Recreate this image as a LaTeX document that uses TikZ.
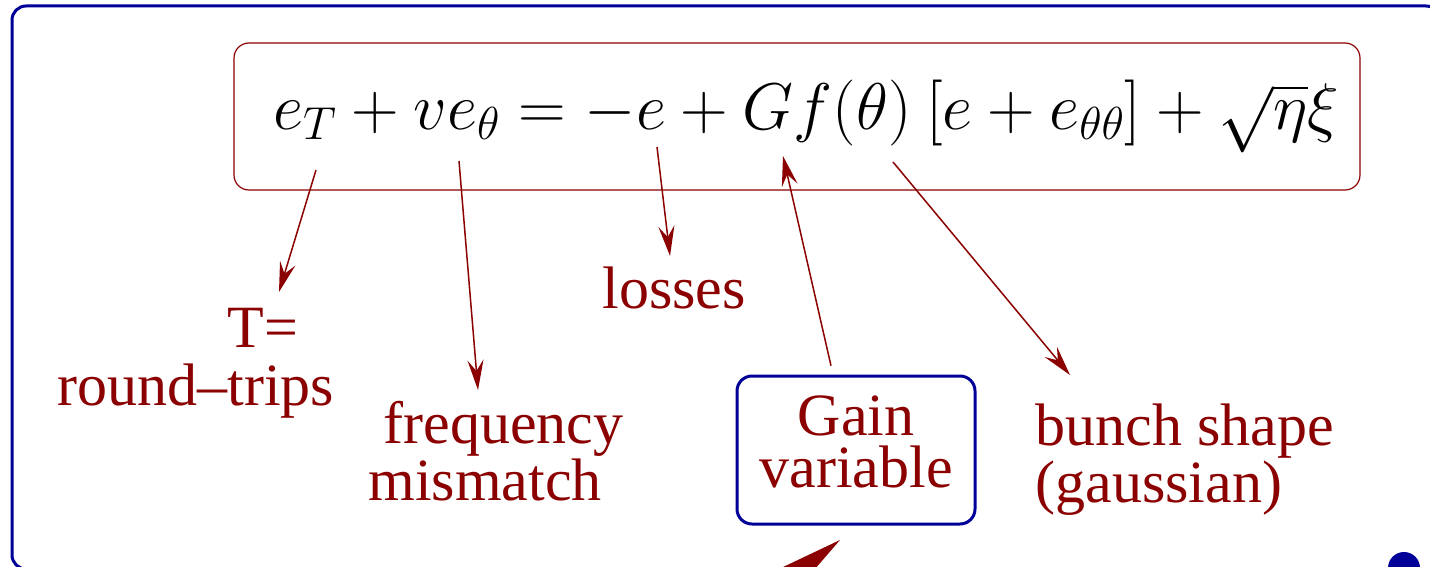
\RequirePackage{fix-cm}
\documentclass[tikz,border=0pt]{standalone}
\usepackage[no-math]{fontspec}
\setmainfont{Liberation Serif}
\usepackage{amsmath}
\usetikzlibrary{arrows.meta,positioning}
\definecolor{labelred}{RGB}{139,0,0}
\definecolor{framenavy}{RGB}{0,0,153}
\begin{document}
\begin{tikzpicture}[x=.5pt,y=-.5pt,>={Stealth[length=15pt,width=8pt,inset=5.5pt]},
  lbl/.style={text=labelred,font=\fontsize{30}{26}\selectfont,inner sep=0pt},
  callout/.style={->,draw=labelred,line width=.75pt}]
  \useasboundingbox (0,0) rectangle (1430,567);
  \draw[framenavy,line width=1.5pt,rounded corners=7pt] (12,6) rectangle (1440,569);
  \node[draw=labelred,line width=.6pt,rounded corners=7.5pt,minimum width=563pt,minimum height=73.5pt] (eqbox) at (797,116.5) {};
  \node[font=\fontsize{33}{38}\selectfont] (eq) at (806,116.5)
    {$e_T+ve_\theta=-e+Gf(\theta)\mkern1mu\left[e+e_{\theta\theta}\right]+\sqrt{\eta}\xi$};
  \node[lbl,anchor=base west] (tlabel) at (227,347) {T=};
  \node[lbl,anchor=base west] (trips) at (57,405) {round--trips};
  \node[lbl,anchor=base west,align=left] (freq) at (368,500) {\ frequency\\mismatch};
  \node[lbl,anchor=base] (loss) at (674,308) {losses};
  \node[lbl,draw=framenavy,line width=1.5pt,rounded corners=7.5pt,align=center,text depth=8pt,
    minimum width=119pt,minimum height=74pt] (gain) at (856,450) {Gain\\variable};
  \node[lbl,anchor=base west,align=left] (bunch) at (1035,502) {bunch shape\\(gaussian)};
  \coordinate (eT) at (316,170);  \coordinate (tipT) at (279,292);
  \coordinate (vth) at (459,161); \coordinate (tipv) at (478,390);
  \coordinate (me) at (657,147);  \coordinate (tipe) at (670,256);
  \coordinate (fth) at (893,162); \coordinate (tipf) at (1070,375);
  \coordinate (tipG) at (783,156);
  \foreach \a/\b in {eT/tipT,vth/tipv,me/tipe,fth/tipf} {\draw[callout] (\a)--(\b);}
  \draw[callout,shorten <=4.5pt] ([xshift=-11.5pt]gain.north)--(tipG);
  \fill[labelred] (840,540)--(762,577)--(808,577)--cycle;
  \fill[framenavy] (1404,568) circle (8pt);
\end{tikzpicture}
\end{document}
